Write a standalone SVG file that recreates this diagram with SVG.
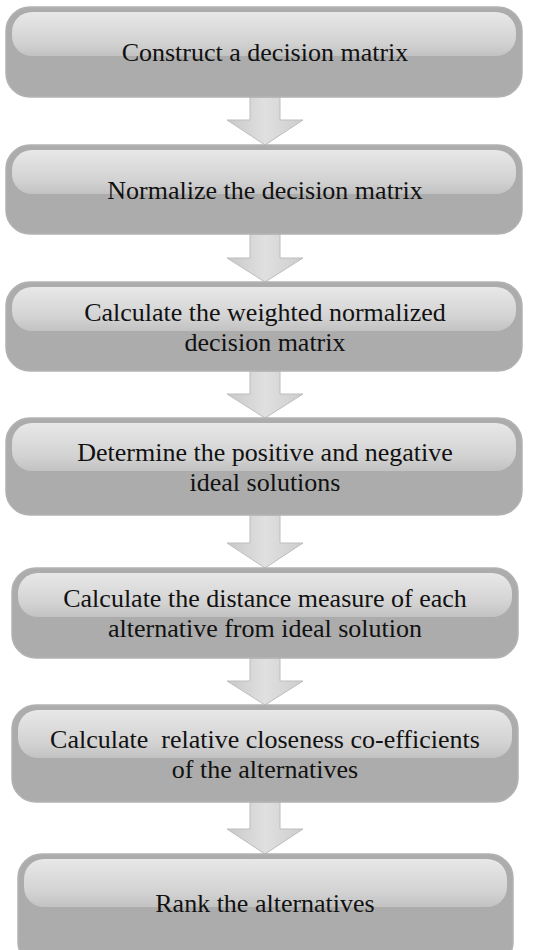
<svg xmlns="http://www.w3.org/2000/svg" width="536" height="950" viewBox="0 0 536 950">
<defs>
<linearGradient id="gloss" x1="0" y1="0" x2="0" y2="1">
<stop offset="0" stop-color="#e8e8e8"/>
<stop offset="0.7" stop-color="#d2d2d2"/>
<stop offset="1" stop-color="#c2c2c2"/>
</linearGradient>
<linearGradient id="arrowFill" x1="0" y1="0" x2="1" y2="0">
<stop offset="0" stop-color="#c8c8c8"/>
<stop offset="0.5" stop-color="#e0e0e0"/>
<stop offset="1" stop-color="#cdcdcd"/>
</linearGradient>
</defs>
<style>
.box{fill:#acacac;stroke:#b2b2b2;stroke-width:1.5}
.gl{fill:url(#gloss)}
.t{font-family:'Liberation Serif','Times New Roman',serif;font-size:26px;fill:#111111;text-anchor:middle;white-space:pre}
.arr{fill:url(#arrowFill);stroke:#bdbdbd;stroke-width:1}
</style>
<rect width="536" height="950" fill="#ffffff"/>
<g id="connectors">
<g transform="translate(265,97)"><path class="arr" d="M-15,0 H15 V23 H38 L0,48 L-38,23 H-15 Z"/></g>
<g transform="translate(265,234)"><path class="arr" d="M-15,0 H15 V24 H38 L0,48 L-38,24 H-15 Z"/></g>
<g transform="translate(265,371)"><path class="arr" d="M-15,0 H15 V23 H38 L0,47 L-38,23 H-15 Z"/></g>
<g transform="translate(265,515)"><path class="arr" d="M-15,0 H15 V28 H38 L0,53 L-38,28 H-15 Z"/></g>
<g transform="translate(265,658)"><path class="arr" d="M-15,0 H15 V23 H38 L0,47 L-38,23 H-15 Z"/></g>
<g transform="translate(265,802)"><path class="arr" d="M-15,0 H15 V27 H38 L0,52 L-38,27 H-15 Z"/></g>
</g>
<g font-family="Liberation Serif, Times New Roman, serif">
<g id="n1">
<rect class="box" x="6" y="7" width="516" height="90" rx="24"/>
<rect class="gl" x="12" y="12" width="504" height="44" rx="20"/>
<text class="t" x="265" y="61">Construct a decision matrix</text>
</g>
<g id="n2">
<rect class="box" x="6" y="145" width="516" height="89" rx="24"/>
<rect class="gl" x="12" y="150" width="504" height="44" rx="20"/>
<text class="t" x="265" y="199">Normalize the decision matrix</text>
</g>
<g id="n3">
<rect class="box" x="6" y="282" width="516" height="89" rx="24"/>
<rect class="gl" x="12" y="287" width="504" height="44" rx="20"/>
<text class="t" x="265" y="321">Calculate the weighted normalized</text>
<text class="t" x="265" y="351">decision matrix</text>
</g>
<g id="n4">
<rect class="box" x="6" y="418" width="516" height="97" rx="24"/>
<rect class="gl" x="12" y="423" width="504" height="48" rx="20"/>
<text class="t" x="265" y="461">Determine the positive and negative</text>
<text class="t" x="265" y="491">ideal solutions</text>
</g>
<g id="n5">
<rect class="box" x="12" y="568" width="506" height="90" rx="24"/>
<rect class="gl" x="18" y="573" width="494" height="44" rx="20"/>
<text class="t" x="265" y="607">Calculate the distance measure of each</text>
<text class="t" x="265" y="637">alternative from ideal solution</text>
</g>
<g id="n6">
<rect class="box" x="12" y="705" width="506" height="97" rx="24"/>
<rect class="gl" x="18" y="710" width="494" height="48" rx="20"/>
<text class="t" x="265" y="748">Calculate  relative closeness co-efficients</text>
<text class="t" x="265" y="778">of the alternatives</text>
</g>
<g id="n7">
<rect class="box" x="18" y="854" width="495" height="112" rx="24"/>
<rect class="gl" x="24" y="859" width="483" height="48" rx="20"/>
<text class="t" x="265" y="912">Rank the alternatives</text>
</g>
</g>
</svg>
